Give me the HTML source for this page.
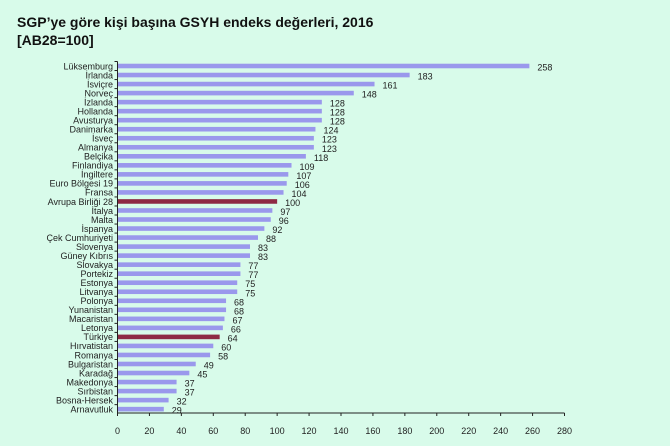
<!DOCTYPE html>
<html><head><meta charset="utf-8"><style>
html,body{margin:0;padding:0;background:#d8fbea;}
svg{display:block;font-family:"Liberation Sans",sans-serif;}
</style></head><body>
<svg id="c" width="670" height="446" xmlns="http://www.w3.org/2000/svg">
<rect width="670" height="446" fill="#d8fbea"/>
<text x="17" y="27" font-size="14" font-weight="bold" fill="#111">SGP’ye göre kişi başına GSYH endeks değerleri, 2016</text>
<text x="17" y="45" font-size="14" font-weight="bold" fill="#111">[AB28=100]</text>
</svg>
<script>
var d=[["Lüksemburg",258],["İrlanda",183],["İsviçre",161],["Norveç",148],["İzlanda",128],["Hollanda",128],["Avusturya",128],["Danimarka",124],["İsveç",123],["Almanya",123],["Belçika",118],["Finlandiya",109],["İngiltere",107],["Euro Bölgesi 19",106],["Fransa",104],["Avrupa Birliği 28",100],["İtalya",97],["Malta",96],["İspanya",92],["Çek Cumhuriyeti",88],["Slovenya",83],["Güney Kıbrıs",83],["Slovakya",77],["Portekiz",77],["Estonya",75],["Litvanya",75],["Polonya",68],["Yunanistan",68],["Macaristan",67],["Letonya",66],["Türkiye",64],["Hırvatistan",60],["Romanya",58],["Bulgaristan",49],["Karadağ",45],["Makedonya",37],["Sırbistan",37],["Bosna-Hersek",32],["Arnavutluk",29]];
var x0=117.5,k=447/280,y0=66,st=9.03,s='';
for(var i=0;i<d.length;i++){
 var y=y0+i*st,v=d[i][1],hl=(v==100||d[i][0]=="Türkiye");
 s+='<rect x="'+x0+'" y="'+(y-2.3)+'" width="'+(v*k)+'" height="4.6" fill="'+(hl?'#8e2a44':'#9a98ec')+'"/>';
 s+='<text x="113" y="'+(y+3.3)+'" font-size="9" text-anchor="end" fill="#222">'+d[i][0]+'</text>';
 s+='<text x="'+(x0+v*k+8)+'" y="'+(y+4.5)+'" font-size="9" fill="#222">'+v+'</text>';
 s+='<line x1="'+(x0-3)+'" x2="'+x0+'" y1="'+(y-4.5)+'" y2="'+(y-4.5)+'" stroke="#222" stroke-width="1"/>';
}
s+='<line x1="'+x0+'" x2="'+x0+'" y1="61.5" y2="413" stroke="#222"/>';
s+='<line x1="'+x0+'" x2="'+(x0+447)+'" y1="413" y2="413" stroke="#222"/>';
for(var t=0;t<=280;t+=20){var xx=x0+t*k;
 s+='<line x1="'+xx+'" x2="'+xx+'" y1="413" y2="416" stroke="#222"/>';
 s+='<text x="'+xx+'" y="434" font-size="9" text-anchor="middle" fill="#222">'+t+'</text>';}
document.getElementById('c').insertAdjacentHTML('beforeend',s);
</script>
</body></html>
